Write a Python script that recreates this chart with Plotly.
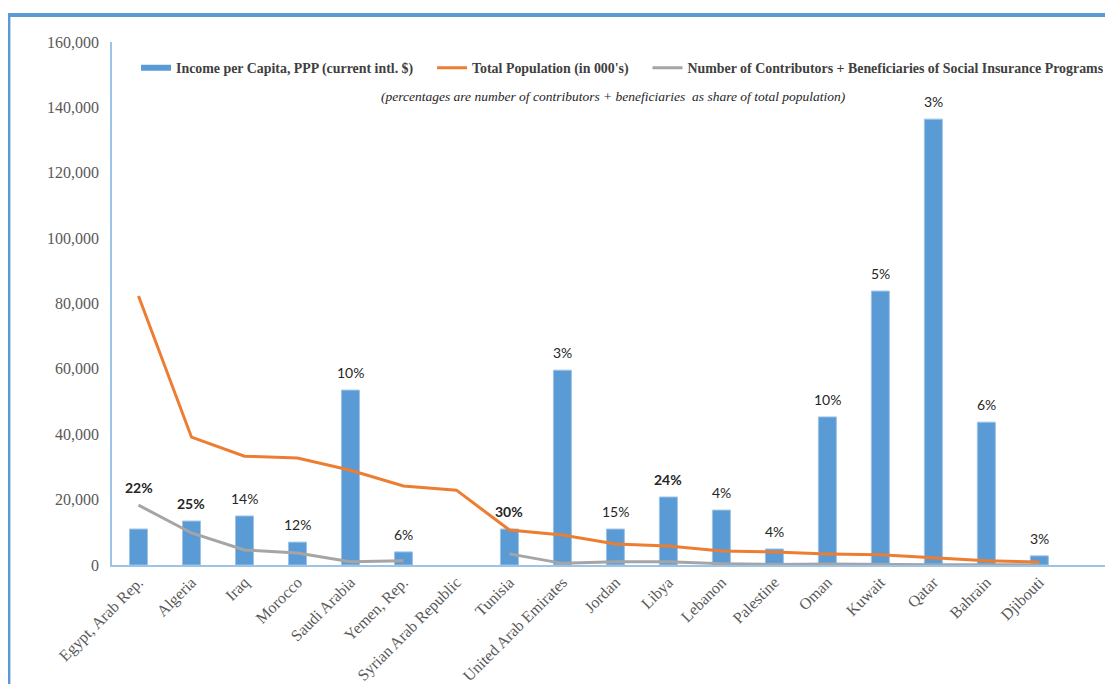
import plotly.graph_objects as go

countries = ["Egypt, Arab Rep.", "Algeria", "Iraq", "Morocco", "Saudi Arabia", "Yemen, Rep.",
             "Syrian Arab Republic", "Tunisia", "United Arab Emirates", "Jordan", "Libya", "Lebanon",
             "Palestine", "Oman", "Kuwait", "Qatar", "Bahrain", "Djibouti"]
income_ppp = [11000, 13450, 15000, 7000, 53500, 4000, None, 11000, 59600, 11000, 20800, 16800,
              4900, 45300, 83800, 136400, 43700, 2800]
population = [82300, 39100, 33300, 32700, 29000, 24200, 22900, 10700, 9200, 6400, 5800, 4300,
              4000, 3400, 3100, 2200, 1300, 900]
contributors = [18300, 9800, 4600, 3700, 1000, 1300, None, 3400, 500, 1000, 1000, 400,
                150, 300, 150, 100, 100, 50]
pct_labels = ["22%", "25%", "14%", "12%", "10%", "6%", "", "30%", "3%", "15%", "24%", "4%",
              "4%", "10%", "5%", "3%", "6%", "3%"]
pct_bold = [True, True, False, False, False, False, False, True, False, False, True, False,
            False, False, False, False, False, False]

BLUE = "#5b9bd5"
ORANGE = "#ed7d31"
GRAY = "#a5a5a5"
idx = list(range(len(countries)))
NB = "\u00a0"

fig = go.Figure()
fig.add_trace(go.Bar(x=idx, y=income_ppp, marker=dict(color=BLUE, line=dict(color="#9dc3e6", width=1)),
                     showlegend=False, name="Income per Capita, PPP (current intl. $)"))
fig.add_trace(go.Scatter(x=idx, y=population, mode="lines", line=dict(color=ORANGE, width=3),
                         showlegend=False, name="Total Population (in 000's)"))
fig.add_trace(go.Scatter(x=idx, y=contributors, mode="lines", line=dict(color=GRAY, width=3),
                         connectgaps=False, showlegend=False,
                         name="Number of Contributors + Beneficiaries of Social Insurance Programs"))
# legend entries
legend_specs = [("<b>Income per Capita, PPP (current intl. $)</b>" + NB * 4, BLUE, 6),
                ("<b>Total Population (in 000's)</b>" + NB * 4, ORANGE, 3),
                ("<b>Number of Contributors + Beneficiaries of Social Insurance Programs</b>", GRAY, 3)]
for name, col, w in legend_specs:
    fig.add_trace(go.Scatter(x=[None], y=[None], mode="lines", line=dict(color=col, width=w), name=name,
                             showlegend=True))

for i, lab in enumerate(pct_labels):
    if not lab:
        continue
    top = max(v for v in (income_ppp[i], contributors[i]) if v is not None)
    txt = f"<b>{lab}</b>" if pct_bold[i] else lab
    fig.add_annotation(x=i, y=top, text=txt, showarrow=False, yanchor="bottom", yshift=7,
                       font=dict(family="Lato, Open Sans, sans-serif", size=14, color="#262626"))

fig.add_annotation(xref="paper", yref="paper", x=0.5005, y=0.895, showarrow=False,
                   xanchor="center", yanchor="middle",
                   text="<i>(percentages are number of contributors + beneficiaries  as share of total population)</i>",
                   font=dict(family="Liberation Serif, serif", size=13.5, color="#262626"))

# outer frame
fig.add_shape(type="path", xref="paper", yref="paper",
              path="M -0.1035,-0.4 L -0.1035,1.0516 L 1.2,1.0516",
              line=dict(color=BLUE, width=4))

fig.update_layout(
    width=1105, height=676,
    margin=dict(l=104, r=0, t=34, b=119, autoexpand=False),
    plot_bgcolor="white", paper_bgcolor="white",
    bargap=0.66,
    legend=dict(orientation="h", x=0.024, y=0.95, xanchor="left", yanchor="middle",
                font=dict(family="Liberation Serif, serif", size=13.9, color="#404040"),
                itemwidth=30, bgcolor="rgba(0,0,0,0)"),
    xaxis=dict(range=[-0.5, 18.39], tickmode="array", tickvals=idx, ticktext=countries,
               tickangle=-45, showgrid=False, showline=True, linecolor="#9dc3e6", linewidth=1.5,
               ticks="", tickfont=dict(family="Liberation Serif, serif", size=16, color="#595959"),
               zeroline=False, automargin=False),
    yaxis=dict(range=[0, 160000], dtick=20000, tickformat=",", showgrid=False, showline=True,
               linecolor="#9dc3e6", linewidth=1.5, ticks="", zeroline=False, automargin=False,
               tickfont=dict(family="Liberation Serif, serif", size=16, color="#595959"),
               ticklabelstandoff=8),
)

fig.write_html("out.html")
